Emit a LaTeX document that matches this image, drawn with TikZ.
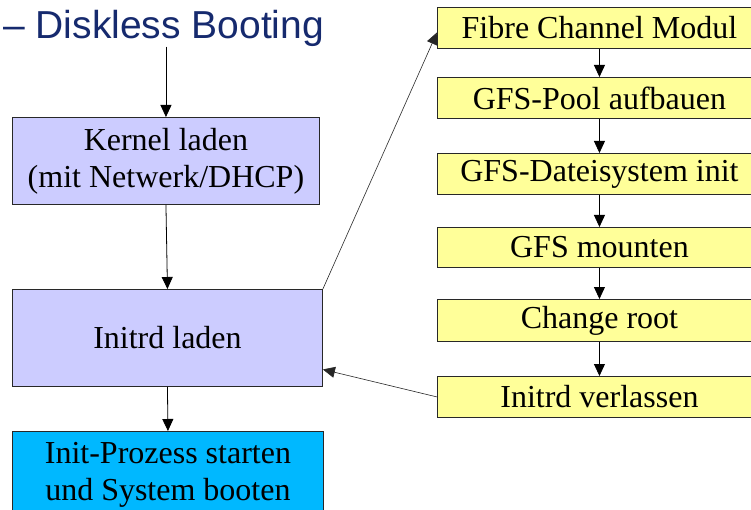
\documentclass[tikz,border=0pt]{standalone}
\usepackage{fontspec}
\setmainfont{Liberation Serif}
\newfontfamily\titlefont{Liberation Sans}
\usetikzlibrary{arrows.meta,calc}

\definecolor{titleblue}{RGB}{22,42,110}
\definecolor{lavender}{RGB}{204,204,255}
\definecolor{paleyellow}{RGB}{255,255,153}
\definecolor{skyblue}{RGB}{0,184,255}
\definecolor{edge}{RGB}{40,40,40}

\tikzset{
  box/.style={draw=edge, line width=0.9pt, rectangle, anchor=north west,
    inner sep=0pt, align=center, font=\fontsize{32}{37}\selectfont},
  leftbox/.style={box, fill=lavender},
  stepbox/.style={box, fill=paleyellow, minimum width=324pt},
  startbox/.style={box, fill=skyblue},
  arr/.style={draw=black, line width=0.8pt, -{Triangle[length=12pt,width=11pt]}},
  thinarr/.style={draw=black!85, line width=0.6pt, -{Triangle[length=12pt,width=11pt]}}
}

\begin{document}
\begin{tikzpicture}[x=1pt, y=-1pt]
  \useasboundingbox (0,0) rectangle (751,510);

  % heading
  \node[anchor=base west, inner sep=0pt, text=titleblue,
        font=\titlefont\fontsize{39}{44}\selectfont] (title) at (3,38.3)
        {– Diskless Booting};

  % left column: boot sequence
  \node[leftbox, minimum width=307pt, minimum height=87pt] (kern) at (12,117)
        {Kernel laden\\(mit Netwerk/DHCP)};
  \node[leftbox, minimum width=310pt, minimum height=97pt] (initrd) at (12,289)
        {Initrd laden};
  \node[startbox, minimum width=311pt, minimum height=86pt] (initp) at (12,431)
        {Init-Prozess starten\\und System booten};

  % right column: steps inside the initrd
  \node[stepbox, minimum height=41pt] (fcm)    at (437,7)   {Fibre Channel Modul};
  \node[stepbox, minimum height=41pt] (pool)   at (437,77)  {GFS-Pool aufbauen};
  \node[stepbox, minimum height=41pt] (dfs)    at (437,153) {GFS-Dateisystem init};
  \node[stepbox, minimum height=40pt] (mount)  at (437,227) {GFS mounten};
  \node[stepbox, minimum height=42pt] (chroot) at (437,299) {Change root};
  \node[stepbox, minimum height=41pt] (leave)  at (437,376) {Initrd verlassen};

  % connectors of the left column
  \draw[arr] (kern.north |- title.south) -- (kern.north);
  \draw[arr] (kern.south) -- (initrd.north);
  \draw[arr] (initrd.south) -- (initp.north);

  % connectors of the right column
  \draw[arr] (fcm.south)    -- (pool.north);
  \draw[arr] (pool.south)   -- (dfs.north);
  \draw[arr] (dfs.south)    -- (mount.north);
  \draw[arr] (mount.south)  -- (chroot.north);
  \draw[arr] (chroot.south) -- (leave.north);

  % jump into the initrd steps and back
  \draw[thinarr] (initrd.north east) -- ($(fcm.west)+(0,4.5)$);
  \draw[thinarr] (leave.west) -- ($(initrd.east)+(0,31.5)$);
\end{tikzpicture}
\end{document}
